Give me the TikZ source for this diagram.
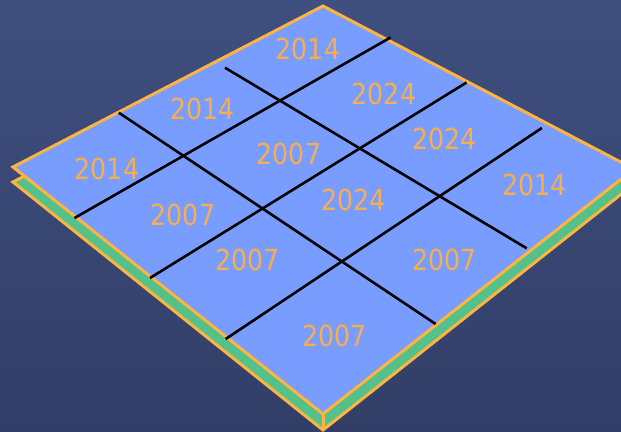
\documentclass[tikz,border=0pt]{standalone}
\usepackage{fontspec}
\setmainfont{DejaVu Sans}
\definecolor{bgtop}{RGB}{63,79,127}
\definecolor{bgbot}{RGB}{50,62,103}
\definecolor{face}{RGB}{121,156,255}
\definecolor{rim}{RGB}{255,179,64}
\definecolor{side}{RGB}{84,192,138}
\definecolor{lbltxt}{RGB}{248,174,78}
\tikzset{
  sheet/.style={draw=rim, line width=3pt, line join=miter},
  gridline/.style={draw=black, line width=2.6pt},
  lbl/.style={text=lbltxt, font=\fontsize{29}{32}\selectfont, inner sep=0pt},
}
\newcommand{\yr}[1]{\scalebox{0.87}[1]{#1}}
\begin{document}
\begin{tikzpicture}[x=1pt, y=-1pt]
\useasboundingbox (0,0) rectangle (621,431);
\clip (0,0) rectangle (621,431);
\shade[top color=bgtop, bottom color=bgbot] (0,0) rectangle (621,431);
% corners of the top sheet
\coordinate (L) at (13,167);
\coordinate (T) at (323,6);
\coordinate (R) at (634,169);
\coordinate (B) at (323,414);
% corners of the lower sheet
\coordinate (L2) at (13,182);
\coordinate (T2) at (323,21);
\coordinate (R2) at (634,184);
\coordinate (B2) at (323,430);
\path[sheet, fill=side] (L2) -- (T2) -- (R2) -- (B2) -- cycle;
\draw[rim, line width=3pt] (B) -- (B2);
\path[sheet, fill=face] (L) -- (T) -- (R) -- (B) -- cycle;
% grid line ends
\coordinate (a1) at (74.5,218);  \coordinate (a2) at (390.5,37.5);
\coordinate (b1) at (150,278);   \coordinate (b2) at (466.5,82.5);
\coordinate (c1) at (225.7,339); \coordinate (c2) at (541.8,128);
\coordinate (d1) at (225,67.7);  \coordinate (d2) at (526.7,248.3);
\coordinate (e1) at (118.8,112.7); \coordinate (e2) at (435.6,324);
\draw[gridline] (a1) -- (a2);
\draw[gridline] (b1) -- (b2);
\draw[gridline] (c1) -- (c2);
\draw[gridline] (d1) -- (d2);
\draw[gridline] (e1) -- (e2);
% labels
\node[lbl] (t1)  at (308,49)    {\yr{2014}};
\node[lbl] (t2)  at (202.8,109) {\yr{2014}};
\node[lbl] (t3)  at (384,94)    {\yr{2024}};
\node[lbl] (t4)  at (107,169)   {\yr{2014}};
\node[lbl] (t5)  at (289,154)   {\yr{2007}};
\node[lbl] (t6)  at (444.4,139) {\yr{2024}};
\node[lbl] (t7)  at (183,215)   {\yr{2007}};
\node[lbl] (t8)  at (353.7,200) {\yr{2024}};
\node[lbl] (t9)  at (534.6,185) {\yr{2014}};
\node[lbl] (t10) at (247.5,260) {\yr{2007}};
\node[lbl] (t11) at (444.4,260) {\yr{2007}};
\node[lbl] (t12) at (334.7,336) {\yr{2007}};
\end{tikzpicture}
\end{document}
